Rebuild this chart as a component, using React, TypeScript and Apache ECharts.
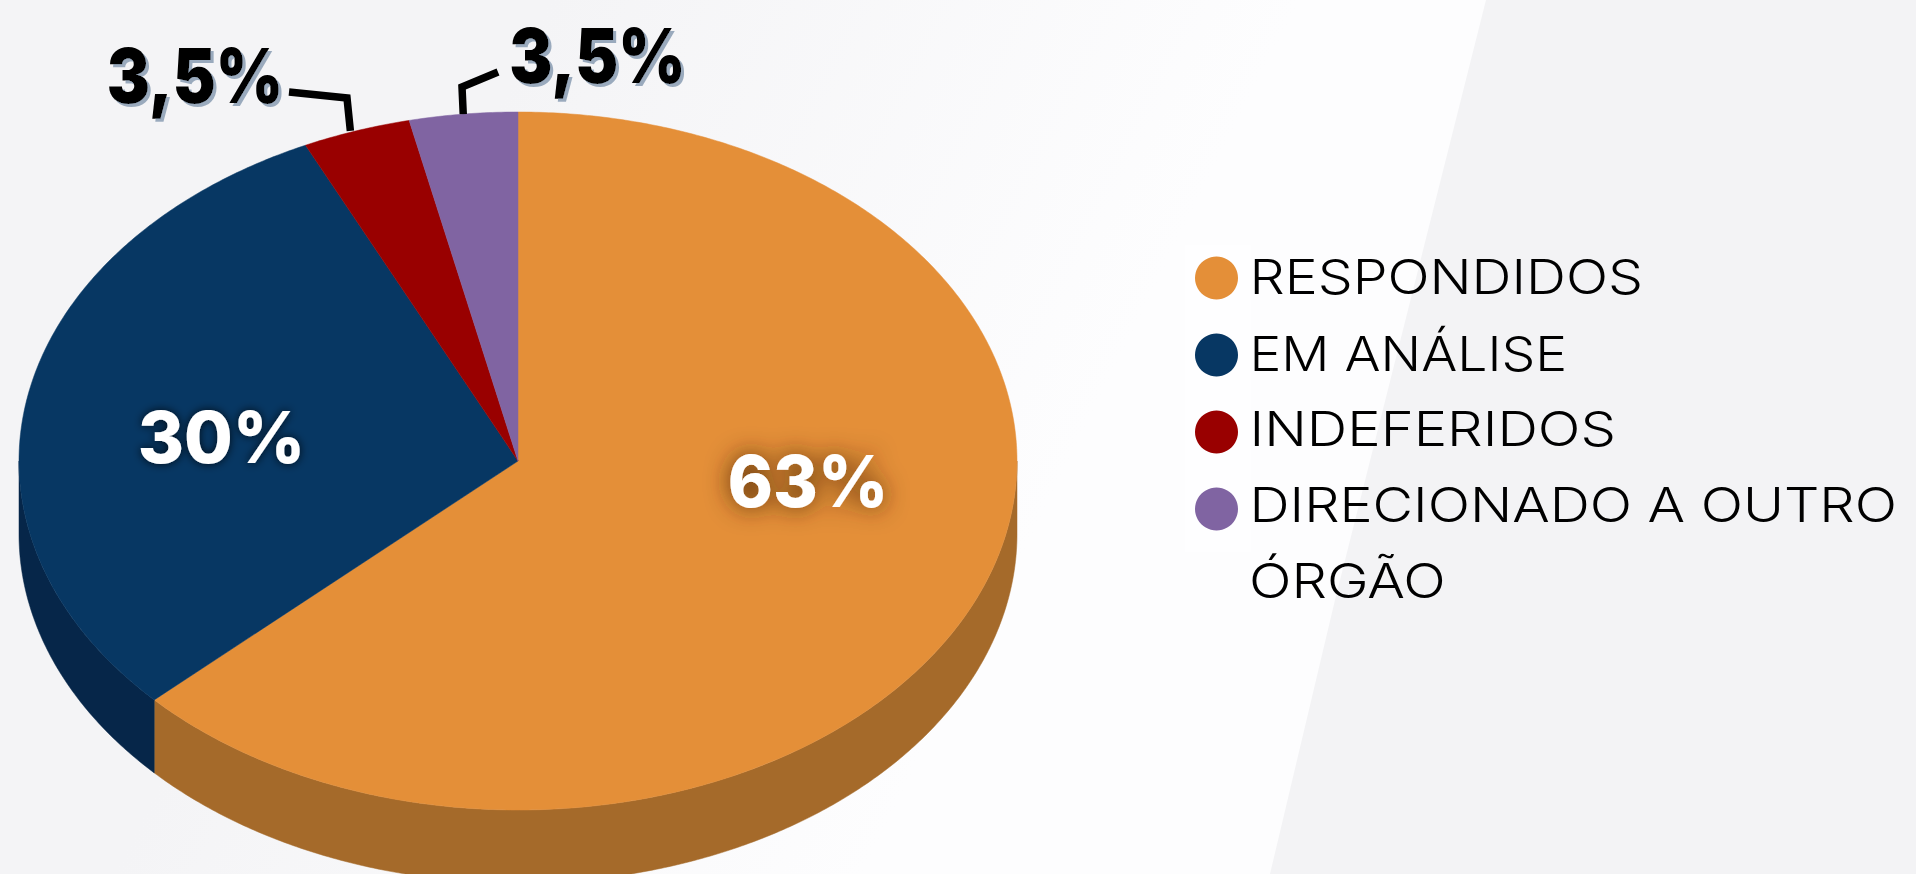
import React, { useEffect, useRef } from "react";
import * as echarts from "echarts";

const categories = ["RESPONDIDOS", "EM ANÁLISE", "INDEFERIDOS", "DIRECIONADO A OUTRO ÓRGÃO"];
const values = [63, 30, 3.5, 3.5];
const valueLabels = ["63%", "30%", "3,5%", "3,5%"];
const legendLines = ["RESPONDIDOS", "EM ANÁLISE", "INDEFERIDOS", "DIRECIONADO A OUTRO", "ÓRGÃO"];
const topColors = ["#e48f38", "#073763", "#990000", "#8064a2"];
const sideColors = ["#a56a2a", "#062649", "#660000", "#554270"];

const W = 1916, H = 874;
const CX = 518, CY = 461, RX = 499, RY = 349, DEPTH = 73;
const FONT = "Inter, 'Open Sans', sans-serif";

const total = values.reduce((a, b) => a + b, 0);
const pt = (deg: number, dy = 0) => {
  const r = (deg * Math.PI) / 180;
  return [CX + RX * Math.sin(r), CY - RY * Math.cos(r) + dy];
};
const arc = (a: number, b: number, dy = 0) => {
  const out: number[][] = [];
  const n = Math.max(2, Math.ceil((b - a) * 2));
  for (let i = 0; i <= n; i++) out.push(pt(a + ((b - a) * i) / n, dy));
  return out;
};

const labelStyle: any[] = [
  { x: 808, y: 481, sx: 0.95, fill: "#ffffff", size: 72, weight: 800, shadow: "rgba(70,35,0,0.9)", blur: 24, ox: 0, oy: 0 },
  { x: 221.5, y: 437, sx: 0.98, fill: "#ffffff", size: 72, weight: 800, shadow: "rgba(0,0,0,0.8)", blur: 10, ox: 0, oy: 0 },
  { x: 195, y: 76, sx: 0.85, fill: "#000000", size: 76, weight: 900, shadow: "#9aaabd", blur: 1, ox: 3, oy: 3 },
  { x: 597.5, y: 56, sx: 0.85, fill: "#000000", size: 76, weight: 900, shadow: "#9aaabd", blur: 1, ox: 3, oy: 3 },
];
const leaders: (number[][] | null)[] = [
  null,
  null,
  [[289, 92], [347, 98]],
  [[498, 72], [462, 87]],
];
const legendX = [1249.5, 1249.5, 1249.5, 1249.5, 1249];
const legendY = [277, 354, 429, 505, 581];
const legendSx = [1.155, 1.115, 1.17, 1.16, 1.165];

const sliceSeries = (i: number) => {
  const before = values.slice(0, i).reduce((a, b) => a + b, 0);
  return {
    type: "custom",
    name: categories[i],
    coordinateSystem: "none",
    silent: true,
    itemStyle: { color: topColors[i] },
    data: [[values[i]]],
    z: 2,
    renderItem: (_: any, api: any) => {
      const a = (before / total) * 360;
      const b = a + (api.value(0) / total) * 360;
      const children: any[] = [];
      const sa = Math.max(a, 90), sb = Math.min(b, 270);
      if (sb > sa) {
        const top = arc(sa, sb);
        const bottom = arc(sa, sb, DEPTH).reverse();
        children.push({
          type: "polygon",
          shape: { points: [...top, ...bottom] },
          style: { fill: sideColors[i], stroke: sideColors[i], lineWidth: 0.5 },
        });
      }
      children.push({
        type: "polygon",
        shape: { points: [[CX, CY], ...arc(a, b)] },
        style: { fill: topColors[i], stroke: topColors[i], lineWidth: 0.5 },
      });
      const l = labelStyle[i];
      const lead = leaders[i];
      if (lead) {
        const mid = pt((a + b) / 2);
        const end = i === 2 ? [mid[0] - 6, mid[1]] : mid;
        children.push({
          type: "polyline",
          shape: { points: [...lead, [end[0], end[1]]] },
          style: { stroke: "#000000", lineWidth: 7.5, fill: "none", lineJoin: "miter" },
        });
      }
      children.push({
        type: "text",
        x: l.x,
        y: l.y,
        scaleX: l.sx,
        style: {
          text: valueLabels[i],
          fontFamily: FONT,
          fontWeight: l.weight,
          fontSize: l.size,
          fill: l.fill,
          align: "center",
          verticalAlign: "middle",
          textShadowColor: l.shadow,
          textShadowBlur: l.blur,
          textShadowOffsetX: l.ox,
          textShadowOffsetY: l.oy,
        },
      });
      return { type: "group", children };
    },
  };
};

export default function App() {
  const ref = useRef<HTMLDivElement>(null);
  useEffect(() => {
    document.body.style.margin = "0";
    const chart = echarts.init(ref.current!, null, { renderer: "svg" });
    chart.setOption({
      animation: false,
      backgroundColor: "#f3f3f5",
      legend: {
        orient: "vertical",
        left: 1195,
        top: 256.5,
        padding: 0,
        icon: "circle",
        itemWidth: 43,
        itemHeight: 43,
        itemGap: 34,
        selectedMode: false,
        data: categories,
        formatter: () => "",
      },
      graphic: [
        {
          type: "polygon",
          silent: true,
          z: 0,
          shape: { points: [[0, 0], [1486, 0], [1335, 600], [1270, 874], [0, 874]] },
          style: {
            fill: new echarts.graphic.LinearGradient(440, 220, 1040, 520, [
              { offset: 0, color: "#f4f4f6" },
              { offset: 1, color: "#fdfdfe" },
            ], true),
          },
        },
        { type: "rect", silent: true, z: 0, shape: { x: 1185, y: 245, width: 66, height: 307 }, style: { fill: "#fefeff" } },
        ...legendLines.map((t, i) => ({
          type: "text",
          silent: true,
          z: 5,
          x: legendX[i],
          y: legendY[i],
          scaleX: legendSx[i],
          style: { text: t, fontFamily: FONT, fontSize: 48, fontWeight: 350, fill: "#000000", verticalAlign: "middle" },
        })),
      ],
      series: categories.map((_, i) => sliceSeries(i)),
    });
    return () => chart.dispose();
  }, []);
  return <div ref={ref} style={{ position: "fixed", left: 0, top: 0, width: W, height: H }} />;
}
